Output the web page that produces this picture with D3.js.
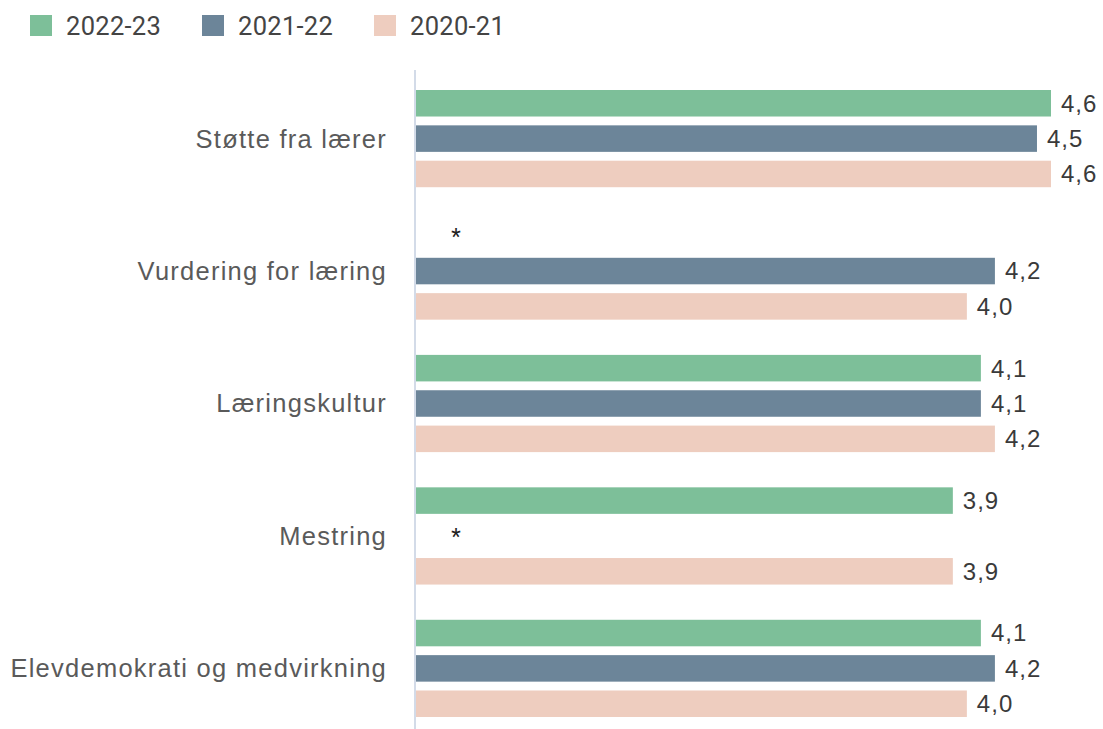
<!DOCTYPE html>
<html>
<head>
<meta charset="utf-8">
<script src="https://cdn.jsdelivr.net/npm/d3@7"></script>
<style>
  body { margin: 0; background: #fff; }
  svg { display: block; font-family: Roboto, "Noto Sans", sans-serif; }
  .cat { font-family: "Liberation Sans", Arial, sans-serif; }
</style>
</head>
<body>
<svg id="chart"></svg>
<script>
// chart values (null = no answer, shown as *)
const categories = ["Støtte fra lærer", "Vurdering for læring", "Læringskultur", "Mestring", "Elevdemokrati og medvirkning"];
const series = ["2022-23", "2021-22", "2020-21"];
const values2022_23 = [4.6, null, 4.1, 3.9, 4.1];
const values2021_22 = [4.5, 4.2, 4.1, null, 4.2];
const values2020_21 = [4.6, 4.0, 4.2, 3.9, 4.0];
const colors = ["#7dbf99", "#6c8599", "#eecdbf"];

const width = 1103, height = 729;
const axisX = 416;

const rows = categories.map((c, i) => ({
  cat: c,
  vals: [values2022_23[i], values2021_22[i], values2020_21[i]]
}));

const svg = d3.select("#chart")
  .attr("width", width)
  .attr("height", height);

const x = d3.scaleLinear().domain([0, 4.6]).range([406, 1051]);

const y = d3.scaleBand()
  .domain(categories)
  .range([90, 717])
  .paddingInner(0.266)
  .paddingOuter(0);

const ySub = d3.scaleBand()
  .domain(series)
  .range([0, y.bandwidth()])
  .paddingInner(0.25)
  .paddingOuter(0);

const color = d3.scaleOrdinal().domain(series).range(colors);
const fmt = v => d3.format(".1f")(v).replace(".", ",");

// axis line
svg.append("line")
  .attr("x1", axisX - 1).attr("x2", axisX - 1)
  .attr("y1", 70).attr("y2", height)
  .attr("stroke", "#d3dbe8")
  .attr("stroke-width", 2);

// category labels
svg.append("g")
  .selectAll("text")
  .data(categories)
  .join("text")
  .attr("class", "cat")
  .attr("x", 387)
  .attr("y", d => y(d) + y.bandwidth() / 2)
  .attr("dy", "0.35em")
  .attr("text-anchor", "end")
  .attr("font-size", 25.5)
  .attr("letter-spacing", 1.25)
  .attr("fill", "#5a5a5a")
  .text(d => d);

const groups = svg.append("g")
  .selectAll("g")
  .data(rows)
  .join("g")
  .attr("transform", d => `translate(0,${y(d.cat)})`);

const cells = groups.selectAll("g")
  .data(d => d.vals.map((v, j) => ({ s: series[j], v })))
  .join("g");

cells.filter(d => d.v != null)
  .append("rect")
  .attr("x", axisX)
  .attr("y", d => ySub(d.s))
  .attr("width", d => x(d.v) - axisX)
  .attr("height", ySub.bandwidth())
  .attr("fill", d => color(d.s));

cells.filter(d => d.v != null)
  .append("text")
  .attr("class", "cat")
  .attr("x", d => x(d.v) + 10)
  .attr("y", d => ySub(d.s) + ySub.bandwidth() / 2)
  .attr("dy", "0.35em")
  .attr("font-size", 24)
  .attr("letter-spacing", 1)
  .attr("fill", "#3a3a3a")
  .text(d => fmt(d.v));

cells.filter(d => d.v == null)
  .append("text")
  .attr("x", 456)
  .attr("y", d => ySub(d.s) + ySub.bandwidth() / 2 + 8)
  .attr("text-anchor", "middle")
  .attr("font-size", 22)
  .attr("fill", "#222")
  .text("*");

// legend
const legendX = [30, 202, 374];
const legend = svg.append("g")
  .selectAll("g")
  .data(series)
  .join("g")
  .attr("transform", (d, i) => `translate(${legendX[i]},15)`);

legend.append("rect")
  .attr("width", 22).attr("height", 21)
  .attr("fill", d => color(d));

legend.append("text")
  .attr("x", 36)
  .attr("y", 11)
  .attr("dy", "0.35em")
  .attr("font-size", 25.5)
  .attr("letter-spacing", 0.3)
  .attr("fill", "#444")
  .text(d => d);
</script>
</body>
</html>
